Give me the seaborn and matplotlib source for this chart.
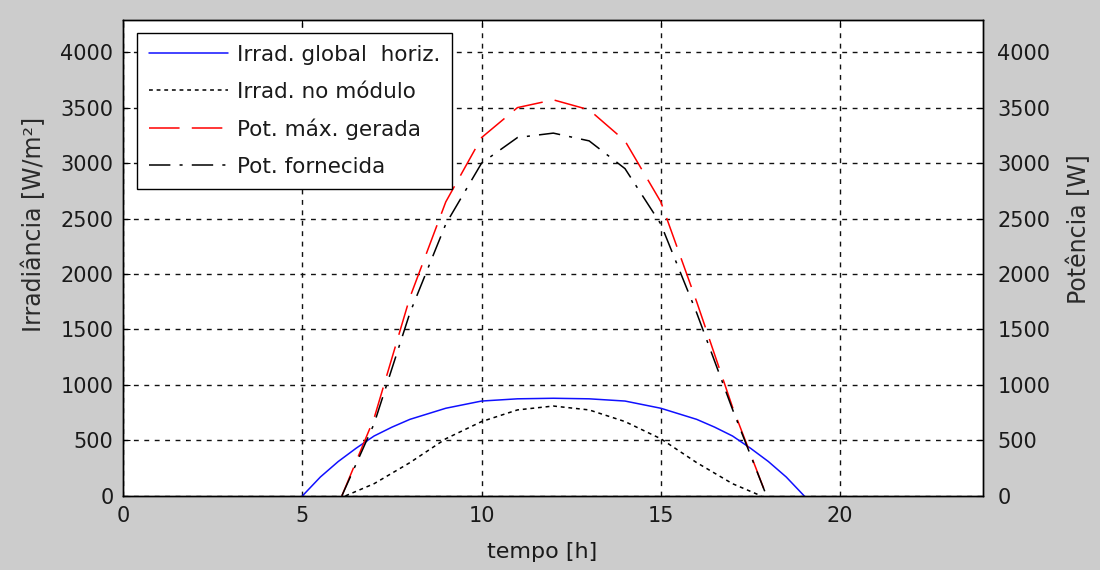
import matplotlib
matplotlib.use("Agg")
import matplotlib.pyplot as plt
import seaborn as sns
import pandas as pd

# ---- data ----
t_ghi = [5, 5.5, 6, 6.5, 7, 7.5, 8, 9, 10, 11, 12, 13, 14, 15, 16, 16.5, 17, 17.5, 18, 18.5, 19]
ghi = [0, 170, 310, 430, 540, 620, 690, 790, 855, 875, 880, 875, 855, 790, 690, 620, 540, 430, 310, 170, 0]

t_mod = [6.2, 7, 8, 9, 10, 11, 12, 13, 14, 15, 16, 17, 17.8]
irr_mod = [0, 110, 300, 515, 670, 775, 810, 775, 670, 515, 300, 110, 0]

t_pot = [6.1, 7, 8, 9, 10, 11, 12, 13, 14, 15, 16, 17, 17.95]
pot_max = [0, 700, 1790, 2650, 3230, 3500, 3570, 3480, 3200, 2650, 1750, 800, 0]
pot_forn = [0, 650, 1650, 2450, 3000, 3230, 3270, 3200, 2950, 2450, 1650, 780, 0]

labels = ["Irrad. global  horiz.", "Irrad. no módulo", "Pot. máx. gerada", "Pot. fornecida"]
x_ticks = [0, 5, 10, 15, 20]
y_ticks = list(range(0, 4001, 500))

df_ghi = pd.DataFrame({"t": t_ghi, "v": ghi})
df_mod = pd.DataFrame({"t": t_mod, "v": irr_mod})
df_max = pd.DataFrame({"t": t_pot, "v": pot_max})
df_forn = pd.DataFrame({"t": t_pot, "v": pot_forn})

sns.set_style("white")
plt.rcParams["font.family"] = ["DejaVu Sans"]

fig = plt.figure(figsize=(11, 5.7), dpi=100, facecolor="#cccccc")
ax = fig.add_axes([0.112, 0.130, 0.782, 0.835])
ax.set_facecolor("white")
ax2 = ax.twinx()

sns.lineplot(data=df_ghi, x="t", y="v", ax=ax, color="#1010ff", linewidth=1.1,
             label=labels[0], legend=False)
sns.lineplot(data=df_mod, x="t", y="v", ax=ax, color="black", linewidth=1.1,
             linestyle=(0, (2.5, 2.5)), label=labels[1], legend=False)
sns.lineplot(data=df_max, x="t", y="v", ax=ax2, color="#ff0000", linewidth=1.1,
             linestyle=(0, (20, 8)), label=labels[2], legend=False)
sns.lineplot(data=df_forn, x="t", y="v", ax=ax2, color="black", linewidth=1.1,
             linestyle=(0, (14, 6, 2, 6)), label=labels[3], legend=False)

ylim = (0, 4290)
for a in (ax, ax2):
    a.set_xlim(0, 24)
    a.set_ylim(*ylim)
    a.set_yticks(y_ticks)
    a.set_xticks(x_ticks)
    for s in a.spines.values():
        s.set_color("black")
        s.set_linewidth(1.0)

ax.grid(True, color="#111111", linestyle=(0, (3.5, 4)), linewidth=1.0)
ax.set_axisbelow(True)
ax.tick_params(axis="both", direction="in", length=5, width=0.8, labelsize=15,
               colors="black", labelcolor="#1a1a1a", pad=7, top=True, right=False)
ax2.tick_params(axis="y", direction="in", length=5, width=0.8, labelsize=15,
                colors="black", labelcolor="#1a1a1a", pad=10, left=False, right=True)

ax.set_xlabel("tempo [h]", fontsize=16, color="#1a1a1a")
ax.xaxis.set_label_coords(0.487, -0.097)
ax.set_ylabel("Irradiância [W/m²]", fontsize=17, color="#2a2a2a")
ax.yaxis.set_label_coords(-0.090, 0.57)
ax2.set_ylabel("Potência [W]", fontsize=17, color="#2a2a2a")
ax2.yaxis.set_label_coords(1.097, 0.56)

h1, lab1 = ax.get_legend_handles_labels()
h2, lab2 = ax2.get_legend_handles_labels()
leg = ax2.legend(h1 + h2, lab1 + lab2, loc="upper left",
                 bbox_to_anchor=(137 / 1100, 1 - 33 / 570), bbox_transform=fig.transFigure,
                 borderaxespad=0, fancybox=False, framealpha=1, edgecolor="black",
                 fontsize=15.5, handlelength=3.7, handletextpad=0.4, labelspacing=0.78,
                 borderpad=0.55)
leg.get_frame().set_linewidth(1.0)
for txt in leg.get_texts():
    txt.set_color("#1a1a1a")

fig.savefig("out.png", dpi=100, facecolor=fig.get_facecolor())
